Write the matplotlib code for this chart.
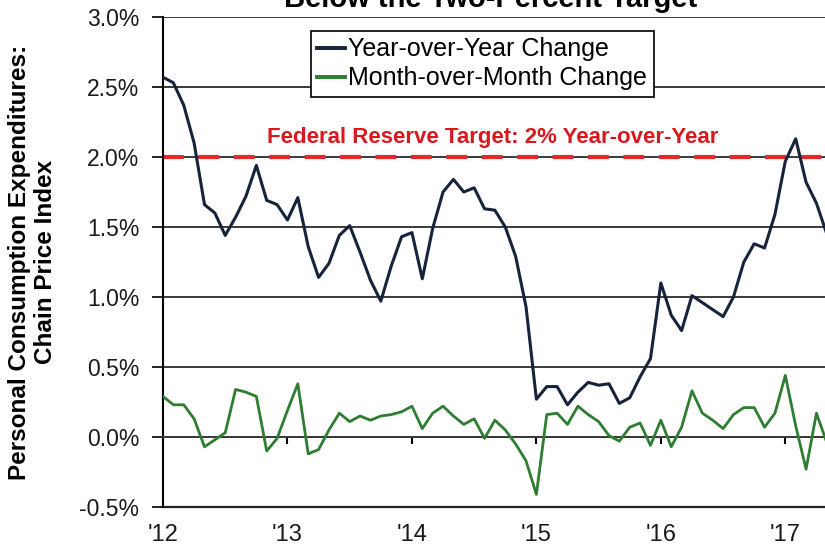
import numpy as np
import matplotlib as mpl
mpl.use('Agg')
import matplotlib.pyplot as plt
from matplotlib.ticker import FuncFormatter

plt.rcParams['font.family'] = ['Liberation Sans', 'DejaVu Sans']

# Monthly PCE chain price index changes (%), Jan 2012 onwards
yoy = [2.57, 2.53, 2.37, 2.10, 1.66, 1.60, 1.44, 1.57, 1.72, 1.94, 1.69, 1.66,
       1.55, 1.71, 1.36, 1.14, 1.24, 1.44, 1.51, 1.32, 1.12, 0.97, 1.22, 1.43,
       1.46, 1.13, 1.49, 1.75, 1.84, 1.75, 1.78, 1.63, 1.62, 1.50, 1.29, 0.93,
       0.27, 0.36, 0.36, 0.23, 0.32, 0.39, 0.37, 0.38, 0.24, 0.28, 0.43, 0.56,
       1.10, 0.87, 0.76, 1.01, 0.96, 0.91, 0.86, 1.00, 1.25, 1.38, 1.35, 1.59,
       1.97, 2.13, 1.82, 1.67, 1.45]
mom = [0.29, 0.23, 0.23, 0.13, -0.07, -0.02, 0.03, 0.34, 0.32, 0.29, -0.10, -0.01,
       0.19, 0.38, -0.12, -0.09, 0.05, 0.17, 0.11, 0.15, 0.12, 0.15, 0.16, 0.18,
       0.22, 0.06, 0.17, 0.22, 0.15, 0.09, 0.13, -0.01, 0.12, 0.05, -0.05, -0.17,
       -0.41, 0.16, 0.17, 0.09, 0.22, 0.16, 0.11, 0.01, -0.03, 0.07, 0.10, -0.06,
       0.12, -0.07, 0.07, 0.33, 0.17, 0.12, 0.06, 0.16, 0.21, 0.21, 0.07, 0.17,
       0.44, 0.08, -0.23, 0.17, -0.04]
target = 2.0
years = [2012, 2013, 2014, 2015, 2016, 2017]
year_labels = ["'12", "'13", "'14", "'15", "'16", "'17"]

t = 2012 + np.arange(len(yoy)) / 12.0

fig = plt.figure(figsize=(8.25, 5.49), dpi=100)
# axes run past the right edge, as in the cropped original
ax = fig.add_axes([163/825, 1 - 507/549, 697/825, 490/549])

ax.set_ylim(-0.5, 3.0)
ax.set_xlim(2012, 2017.6)
yt = np.arange(-0.5, 3.01, 0.5)
ax.set_yticks(yt)
ax.yaxis.set_major_formatter(FuncFormatter(lambda v, p: f'{v:.1f}%'))
ax.tick_params(axis='y', length=8, width=1.2, pad=9, labelsize=16.5, direction='out',
               labelcolor='#1a1a1a')
for v in yt[1:]:
    ax.axhline(v, color='#3a3a3a', lw=1.4, zorder=1)

for s in ['top', 'right']:
    ax.spines[s].set_visible(False)
ax.spines['left'].set_linewidth(1.5)
ax.spines['left'].set_color('black')

# category axis crosses at zero: small ticks there, labels at the bottom
ax.spines['bottom'].set_position(('data', 0))
ax.spines['bottom'].set_linewidth(1.4)
ax.spines['bottom'].set_color('#3a3a3a')
ax.set_xticks(years)
ax.tick_params(axis='x', length=5, width=1.5, direction='out', labelbottom=False)
sec = ax.secondary_xaxis('bottom')
sec.set_xticks(years)
sec.set_xticklabels(year_labels)
sec.tick_params(length=0, pad=12, labelsize=17, labelcolor='#1a1a1a')
sec.spines['bottom'].set_linewidth(1.6)
sec.spines['bottom'].set_color('#222222')

ax.axhline(target, color='#e8262b', lw=3, ls=(0, (5, 3.5)), zorder=2)
ax.text(2014.65, 2.0 + 14/140, 'Federal Reserve Target: 2% Year-over-Year', color='#d7191f',
        fontsize=16, fontweight='bold', ha='center', va='baseline')

ax.plot(t, yoy, color='#17223b', lw=2.2, label='Year-over-Year Change', zorder=4)
ax.plot(t, mom, color='#2e7d32', lw=2.0, label='Month-over-Month Change', zorder=3)

leg = ax.legend(loc='upper left', bbox_to_anchor=((311 - 163) / 697, 1 - 14/490),
                fontsize=18, frameon=True, fancybox=False, handlelength=1.1,
                handletextpad=0.15, borderpad=0.25, labelspacing=0.2, borderaxespad=0)
leg.get_frame().set_edgecolor('black')
leg.get_frame().set_linewidth(1.2)
leg.get_frame().set_alpha(1)
for h in leg.get_lines():
    h.set_linewidth(2.8)

ax.set_ylabel('Personal Consumption Expenditures:\nChain Price Index', fontsize=17.5,
              fontweight='bold', linespacing=1.15)
ax.yaxis.set_label_coords(-(163 - 57) / 697, 0.5)

fig.text(491/825, 1 - 7/549, 'Below the Two-Percent Target', ha='center', va='baseline',
         fontsize=21, fontweight='bold')

plt.savefig('out.png', dpi=100)
